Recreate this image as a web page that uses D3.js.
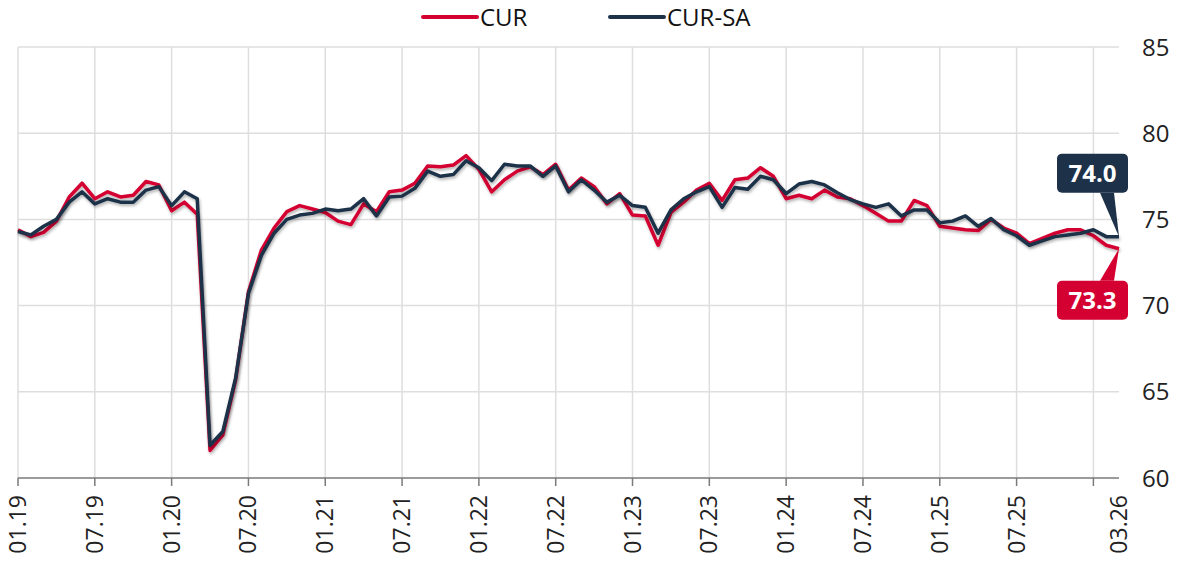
<!DOCTYPE html>
<meta charset="utf-8">
<style>
  body { margin: 0; background: #fff; }
  text { font-family: "Open Sans", "Noto Sans", sans-serif; }
  .grid line { stroke: #dedede; stroke-width: 1.5px; }
  .line { fill: none; stroke-width: 3.5px; stroke-linejoin: round; }
</style>
<body>
<script src="https://d3js.org/d3.v7.min.js"></script>
<script>

// month labels, 01.19 .. 03.26
var months = [];
for (var yr = 19; yr <= 26; yr++) {
  for (var m = 1; m <= 12; m++) {
    if (yr === 26 && m > 3) break;
    months.push((m < 10 ? "0" + m : "" + m) + "." + yr);
  }
}

var cur = [74.4, 74.0, 74.25, 74.9, 76.3, 77.1, 76.2, 76.6, 76.3, 76.4, 77.2, 77.0,
  75.5, 76.0, 75.3, 61.6, 62.5, 65.7, 70.8, 73.2, 74.5, 75.45, 75.8, 75.6,
  75.4, 74.9, 74.7, 75.9, 75.45, 76.6, 76.7, 77.1, 78.1, 78.05, 78.15, 78.7,
  77.9, 76.6, 77.3, 77.8, 78.05, 77.6, 78.2, 76.7, 77.4, 76.9, 75.9, 76.5,
  75.25, 75.2, 73.5, 75.4, 76.0, 76.7, 77.1, 76.1, 77.3, 77.4, 78.0, 77.5,
  76.2, 76.4, 76.2, 76.7, 76.3, 76.2, 75.8, 75.35, 74.9, 74.9, 76.1, 75.8,
  74.6, 74.5, 74.4, 74.35, 75.0, 74.5, 74.2, 73.6, 73.9, 74.2, 74.4, 74.4,
  74.05, 73.5, 73.3];

var curSa = [74.3, 74.1, 74.6, 75.0, 76.0, 76.6, 75.9, 76.2, 76.0, 76.0, 76.7, 76.9,
  75.8, 76.6, 76.2, 61.9, 62.7, 65.8, 70.7, 72.9, 74.2, 75.0, 75.25, 75.35,
  75.6, 75.5, 75.6, 76.2, 75.2, 76.3, 76.35, 76.8, 77.8, 77.5, 77.6, 78.4,
  78.0, 77.25, 78.2, 78.1, 78.1, 77.5, 78.1, 76.6, 77.3, 76.7, 76.0, 76.4,
  75.8, 75.7, 74.2, 75.55, 76.2, 76.6, 76.9, 75.7, 76.85, 76.75, 77.5, 77.3,
  76.5, 77.05, 77.2, 77.0, 76.55, 76.15, 75.9, 75.7, 75.9, 75.2, 75.55, 75.55,
  74.8, 74.9, 75.2, 74.6, 75.05, 74.4, 74.05, 73.5, 73.75, 74.0, 74.1, 74.2,
  74.4, 74.0, 74.0];

var yTicks = [60, 65, 70, 75, 80, 85];
var xTickLabels = ["01.19", "07.19", "01.20", "07.20", "01.21", "07.21", "01.22", "07.22",
  "01.23", "07.23", "01.24", "07.24", "01.25", "07.25", "03.26"];
var seriesNames = ["CUR", "CUR-SA"];
var colors = ["#d40032", "#1d3148"];

var width = 1179, height = 561;

// scales
var x = d3.scaleLinear().domain([0, months.length - 1]).range([18, 1119]);
var y = d3.scaleLinear().domain([60, 85]).range([478, 47]);

var svg = d3.select("body").append("svg")
    .attr("width", width)
    .attr("height", height);

var defs = svg.append("defs");
defs.append("filter")
    .attr("id", "shadow")
    .attr("x", "-5%").attr("y", "-5%")
    .attr("width", "110%").attr("height", "110%")
  .append("feDropShadow")
    .attr("dx", 1).attr("dy", 2)
    .attr("stdDeviation", 1.5)
    .attr("flood-color", "#000")
    .attr("flood-opacity", 0.3);

// grid ticks every 6 months
var gridIdx = d3.range(0, months.length, 6);

var grid = svg.append("g").attr("class", "grid");
grid.selectAll(".v")
    .data(gridIdx)
  .enter().append("line")
    .attr("x1", function(d) { return x(d); })
    .attr("x2", function(d) { return x(d); })
    .attr("y1", y(85))
    .attr("y2", y(60));
grid.selectAll(".h")
    .data(yTicks.slice(1))
  .enter().append("line")
    .attr("x1", x.range()[0])
    .attr("x2", x.range()[1])
    .attr("y1", function(d) { return y(d); })
    .attr("y2", function(d) { return y(d); });

// bottom axis line and ticks
svg.append("line")
    .attr("x1", x.range()[0]).attr("x2", x.range()[1])
    .attr("y1", y(60)).attr("y2", y(60))
    .attr("stroke", "#7a7a7a").attr("stroke-width", 1.5);
svg.selectAll(".xtick")
    .data(gridIdx)
  .enter().append("line")
    .attr("x1", function(d) { return x(d); })
    .attr("x2", function(d) { return x(d); })
    .attr("y1", y(60))
    .attr("y2", y(60) + 8)
    .attr("stroke", "#7a7a7a").attr("stroke-width", 1.5);

// x labels (rotated)
svg.selectAll(".xlabel")
    .data(xTickLabels)
  .enter().append("text")
    .attr("transform", function(d) {
      return "translate(" + (x(months.indexOf(d)) + 8) + ",495) rotate(-90)";
    })
    .attr("text-anchor", "end")
    .attr("font-size", "23px")
    .attr("fill", "#222")
    .text(function(d) { return d; });

// y labels on the right
svg.selectAll(".ylabel")
    .data(yTicks)
  .enter().append("text")
    .attr("x", 1142)
    .attr("y", function(d) { return y(d); })
    .attr("dy", "0.36em")
    .attr("font-size", "24px")
    .attr("fill", "#222")
    .text(function(d) { return d; });

// lines
var valueline = d3.line()
    .x(function(d, i) { return x(i); })
    .y(function(d) { return y(d); });

[cur, curSa].forEach(function(s, k) {
  svg.append("path")
      .datum(s)
      .attr("class", "line")
      .attr("stroke", colors[k])
      .attr("filter", "url(#shadow)")
      .attr("d", valueline);
});

// legend
var legendX = [423, 610];
seriesNames.forEach(function(name, k) {
  svg.append("line")
      .attr("x1", legendX[k]).attr("x2", legendX[k] + 54)
      .attr("y1", 17).attr("y2", 17)
      .attr("stroke", colors[k])
      .attr("stroke-width", 4)
      .attr("stroke-linecap", "round");
  svg.append("text")
      .attr("x", legendX[k] + 57)
      .attr("y", 26)
      .attr("font-size", "24px")
      .attr("fill", "#111")
      .text(name);
});

// end-value callouts
function callout(val, color, above) {
  var last = months.length - 1;
  var px = x(last), py = y(val);
  var bw = 71, bh = 39;
  var bx = px + 9 - bw;
  var by = above ? py - 44 - bh : py + 32;
  var edge = above ? by + bh : by;
  var g = svg.append("g");
  g.append("path")
      .attr("d", "M" + (px - 19) + "," + edge + "L" + (px - 5) + "," + edge + "L" + px + "," + py + "Z")
      .attr("fill", color);
  g.append("rect")
      .attr("x", bx).attr("y", by)
      .attr("width", bw).attr("height", bh)
      .attr("rx", 5)
      .attr("fill", color);
  g.append("text")
      .attr("x", bx + bw / 2)
      .attr("y", by + bh / 2)
      .attr("dy", "0.36em")
      .attr("text-anchor", "middle")
      .attr("font-size", "24px")
      .attr("font-weight", "bold")
      .attr("fill", "#fff")
      .text(val.toFixed(1));
}
callout(curSa[curSa.length - 1], colors[1], true);
callout(cur[cur.length - 1], colors[0], false);

</script>
</body>
